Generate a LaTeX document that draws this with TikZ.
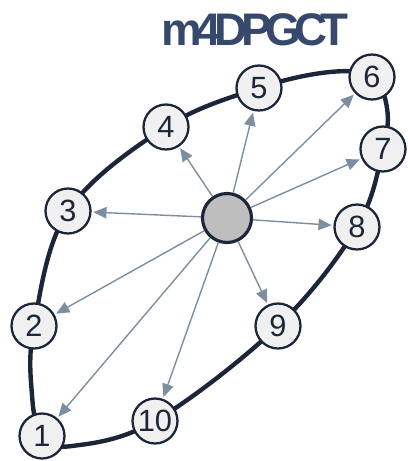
\documentclass[tikz,border=0pt]{standalone}
\usepackage{fontspec}
\setmainfont{Liberation Sans}
\usetikzlibrary{arrows.meta}
\definecolor{ink}{HTML}{1C2638}
\definecolor{slate}{HTML}{7B8FA0}
\definecolor{titleblue}{HTML}{36496C}
\definecolor{pale}{HTML}{F0F0F0}
\definecolor{hub}{HTML}{BEBEBE}
\tikzset{
  vtx/.style={circle, draw=ink, fill=pale, line width=1.3pt, minimum size=0.9cm, inner sep=0pt, font=\fontsize{17.5}{18}\selectfont, text=ink},
  centre/.style={circle, draw=ink, fill=hub, line width=1.8pt, minimum size=0.98cm, inner sep=0pt},
  ring/.style={ink, line width=2.5pt},
  ray/.style={-{Triangle[length=7.5pt,width=6.5pt]}, slate, line width=0.8pt, shorten >=1pt},
  heading/.style={text=titleblue, font=\fontsize{26}{26}\selectfont\bfseries\addfontfeatures{LetterSpace=-14}, inner sep=0pt},
}
\begin{document}
\begin{tikzpicture}[x=0.02cm, y=-0.02cm]
  \useasboundingbox (0,0) rectangle (408,461);
  % title, letters packed tight
  \node[heading, anchor=west] (title) at (161,30) {m4DPGCT};

  % outer ring through the vertices
  \draw[ring] plot[smooth cycle, tension=0.6] coordinates {
    (42,436) (72,446) (155,421) (278,326) (357,227) (383,149)
    (387,108) (372,77) (330,72) (259,88) (166,127) (68,211)
    (34,326) (32,395)};

  % vertices
  \node[vtx] (n1) at (42,436) {1};
  \node[vtx] (n2) at (34,326) {2};
  \node[vtx] (n3) at (68,211) {3};
  \node[vtx] (n4) at (166,127) {4};
  \node[vtx] (n5) at (259,88) {5};
  \node[vtx] (n6) at (372,77) {6};
  \node[vtx] (n7) at (383,149) {7};
  \node[vtx] (n8) at (357,227) {8};
  \node[vtx] (n9) at (278,326) {9};
  \node[vtx] (n10) at (155,421) {10};
  \node[centre] (c) at (227,218) {};

  % rays from the centre
  \foreach \k in {1,...,10}
    \draw[ray] (c) -- (n\k);
\end{tikzpicture}
\end{document}
